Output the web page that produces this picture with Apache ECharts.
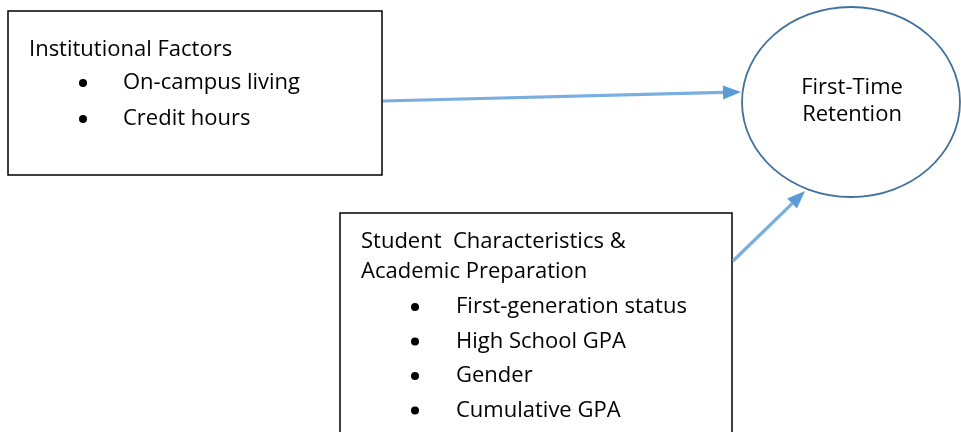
<!DOCTYPE html>
<html>
<head>
<meta charset="utf-8">
<script src="https://cdn.jsdelivr.net/npm/echarts@6/dist/echarts.min.js"></script>
<style>html,body{margin:0;padding:0;background:#fff;}#c{width:961px;height:432px;}</style>
</head>
<body>
<div id="c"></div>
<script>
// Content
const box1Title = ['Institutional Factors'];
const box1Items = ['On-campus living', 'Credit hours'];
const box2Title = ['Student  Characteristics &', 'Academic Preparation'];
const box2Items = ['First-generation status', 'High School GPA', 'Gender', 'Cumulative GPA'];
const outcomeLabel = ['First-Time', 'Retention'];

// Layout (pixels)
const FONT = '"Open Sans", Lato, sans-serif';
const FS = 22;
const box1 = {x: 8, y: 11, w: 374, h: 164, textX: 29, titleY: 50, bulletX: 83, itemX: 123, itemY0: 83, step: 36};
const box2 = {x: 340, y: 213, w: 392, h: 240, textX: 361, titleY: 242, titleStep: 30, bulletX: 415, itemX: 456, itemY0: 307, step: 34.5};
const ell = {cx: 851, cy: 102, rx: 109, ry: 95};
const arrows = [
  {from: [383, 101], to: [741, 92]},
  {from: [733, 261], to: [805, 191]}
];

const els = [];
function textEl(x, y, s, align) {
  els.push({type: 'text', x: x, y: y, style: {text: s, font: FS + 'px ' + FONT, fill: '#000', textAlign: align || 'left', textVerticalAlign: 'middle'}, z: 10});
}
function bullet(x, y) {
  els.push({type: 'circle', shape: {cx: x, cy: y, r: 4}, style: {fill: '#000'}, z: 10});
}
// Box 1
els.push({type: 'rect', shape: {x: box1.x, y: box1.y, width: box1.w, height: box1.h}, style: {fill: '#fff', stroke: '#000', lineWidth: 1.5}, z: 5});
box1Title.forEach((t, i) => textEl(box1.textX, box1.titleY + i * 30, t));
box1Items.forEach((t, i) => { bullet(box1.bulletX, box1.itemY0 + i * box1.step); textEl(box1.itemX, box1.itemY0 + i * box1.step, t); });
// Box 2
els.push({type: 'rect', shape: {x: box2.x, y: box2.y, width: box2.w, height: box2.h}, style: {fill: '#fff', stroke: '#000', lineWidth: 1.5}, z: 5});
box2Title.forEach((t, i) => textEl(box2.textX, box2.titleY + i * box2.titleStep, t));
box2Items.forEach((t, i) => { bullet(box2.bulletX, box2.itemY0 + i * box2.step); textEl(box2.itemX, box2.itemY0 + i * box2.step, t); });
// Ellipse
els.push({type: 'ellipse', shape: {cx: ell.cx, cy: ell.cy, rx: ell.rx, ry: ell.ry}, style: {fill: '#fff', stroke: '#41719C', lineWidth: 1.8}, z: 5});
outcomeLabel.forEach((t, i) => textEl(ell.cx + 1, 88 + i * 27, t, 'center'));
// Arrows
arrows.forEach(a => {
  const dx = a.to[0] - a.from[0], dy = a.to[1] - a.from[1];
  const len = Math.sqrt(dx * dx + dy * dy);
  const ux = dx / len, uy = dy / len;
  const hl = 18, hw = 7;
  const bx = a.to[0] - ux * hl, by = a.to[1] - uy * hl;
  els.push({type: 'line', shape: {x1: a.from[0], y1: a.from[1], x2: bx, y2: by}, style: {stroke: '#7aaede', lineWidth: 3.2}, z: 6});
  els.push({type: 'polygon', shape: {points: [a.to, [bx - uy * hw, by + ux * hw], [bx + uy * hw, by - ux * hw]]}, style: {fill: '#5b9bd5'}, z: 6});
});

const chart = echarts.init(document.getElementById('c'), null, {renderer: 'canvas'});
chart.setOption({animation: false, backgroundColor: '#fff', graphic: {elements: els}});
</script>
</body>
</html>
